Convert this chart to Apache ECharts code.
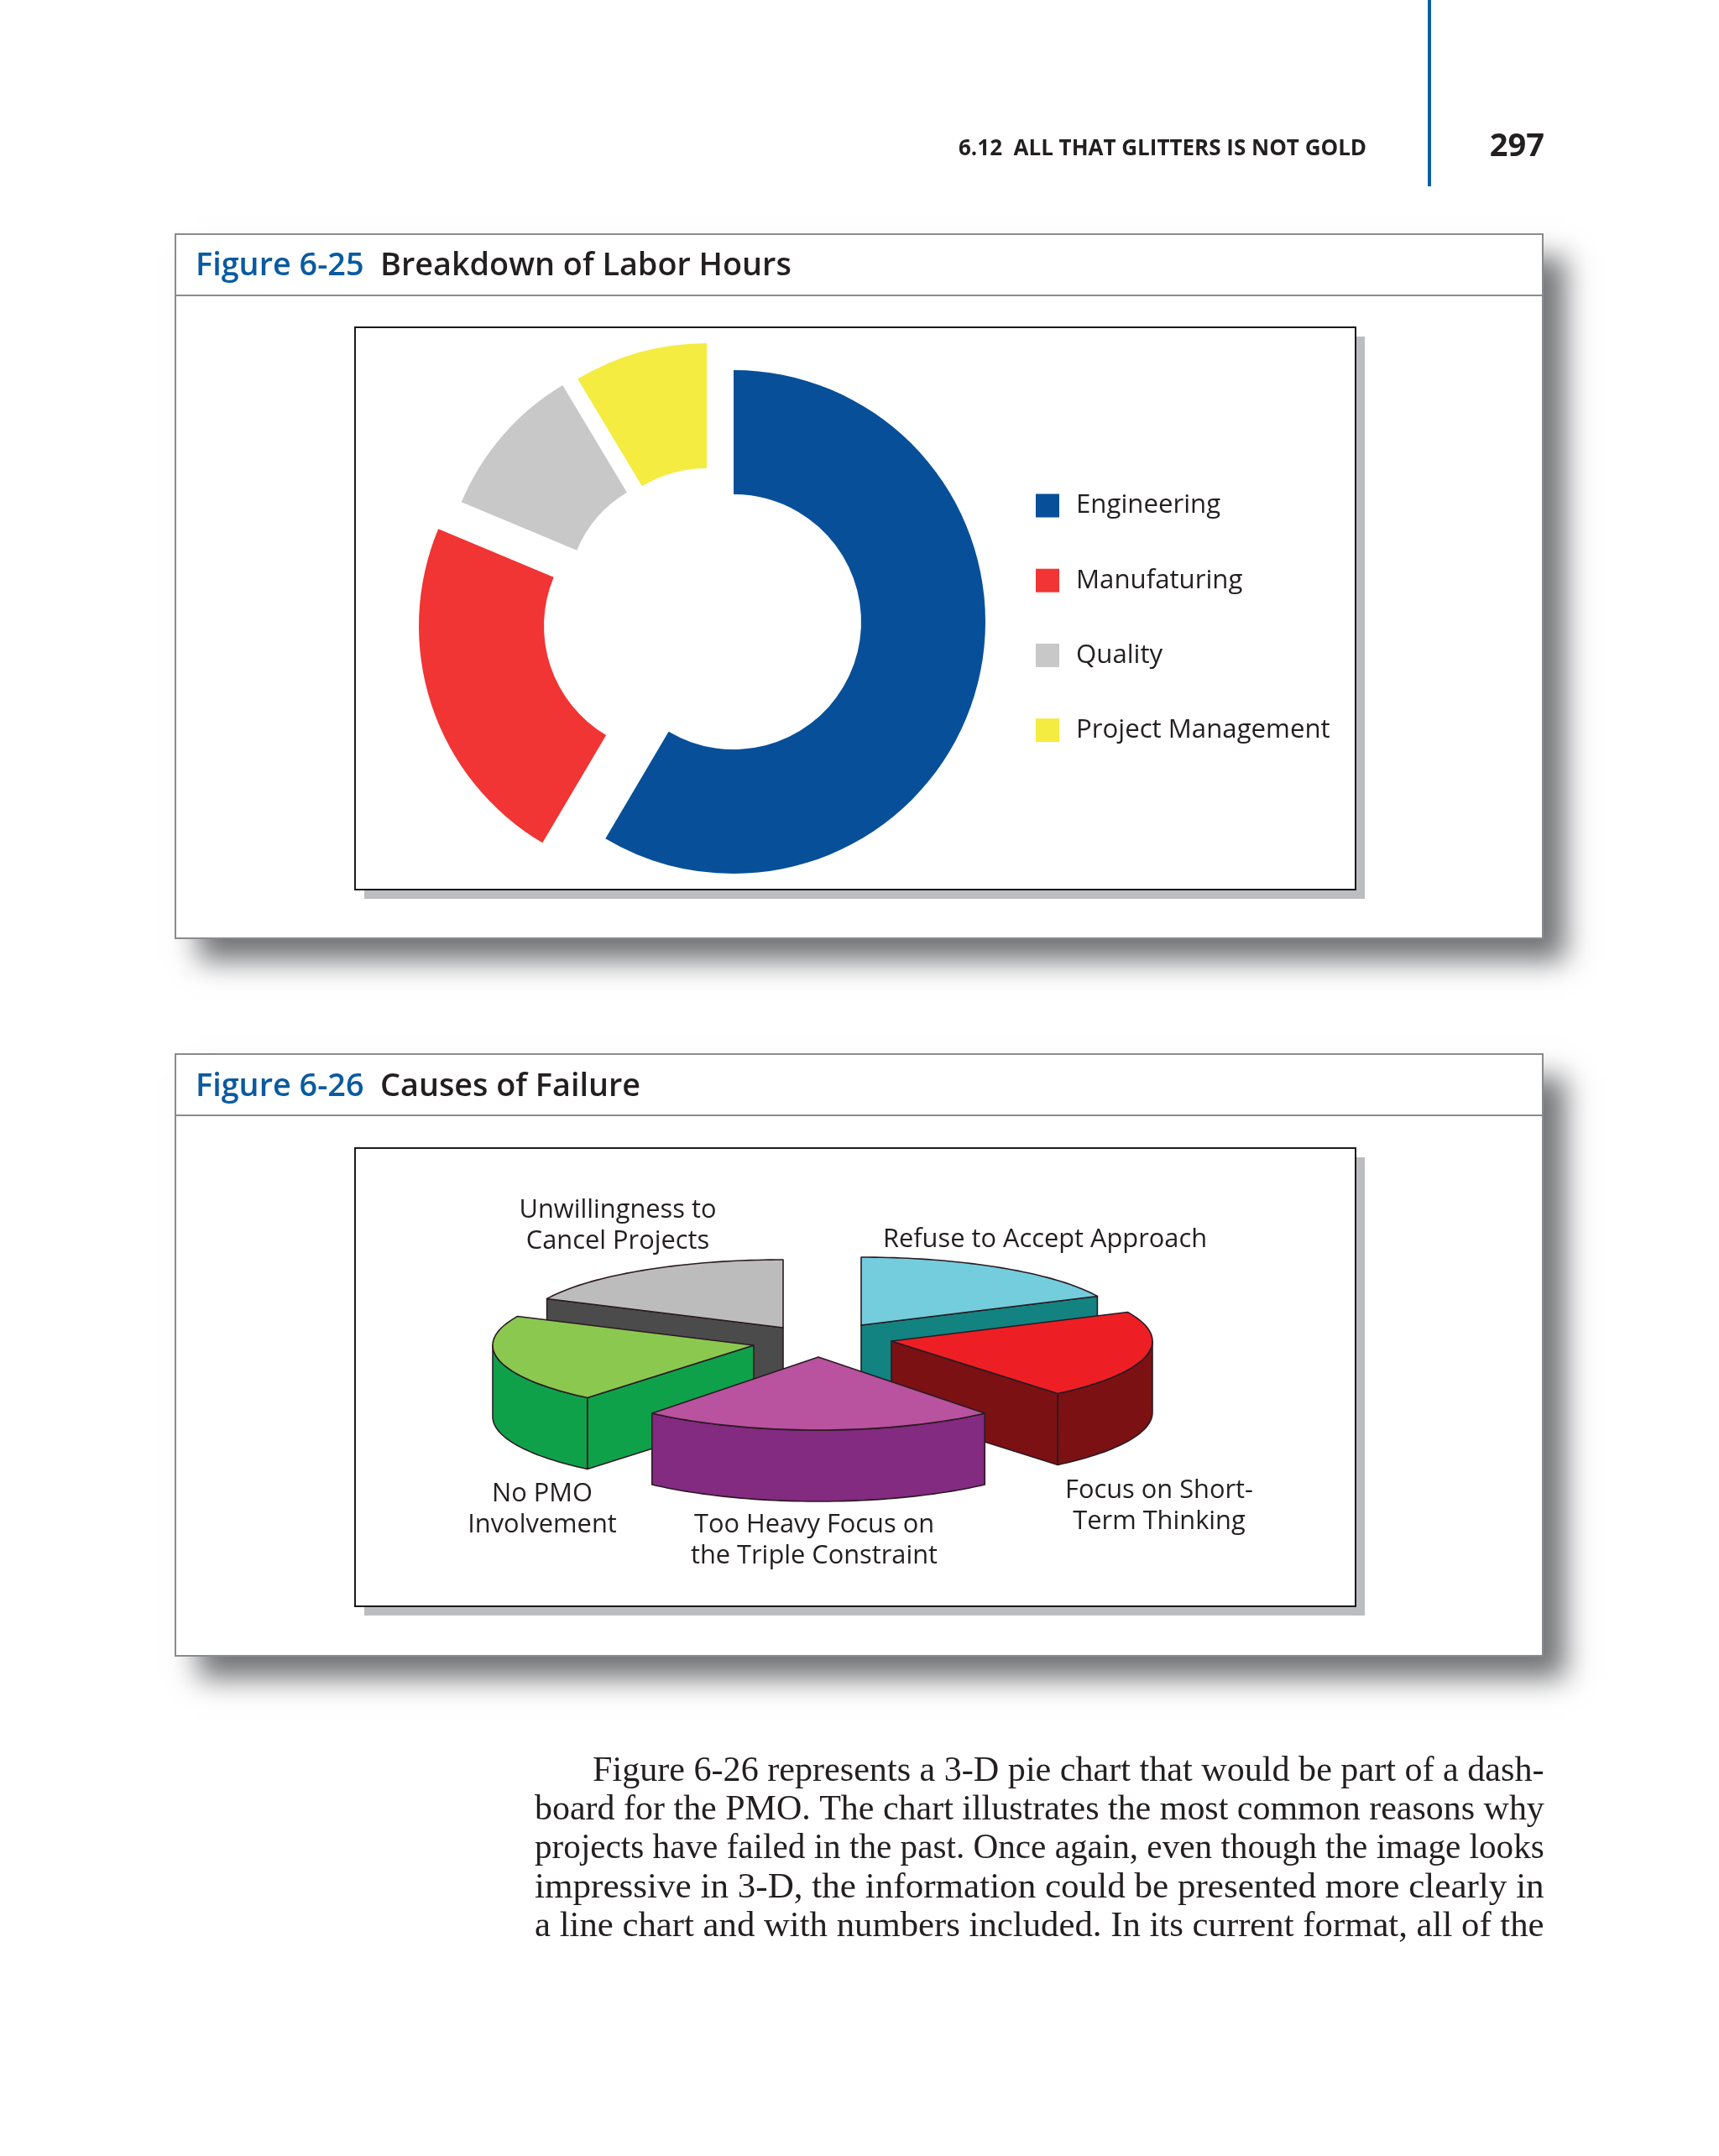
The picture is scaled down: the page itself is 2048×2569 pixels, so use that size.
<!DOCTYPE html>
<html>
<head>
<meta charset="utf-8">
<style>html,body{margin:0;padding:0;background:#fff}#c{width:2048px;height:2569px}</style>
<script src="https://cdn.jsdelivr.net/npm/echarts@6/dist/echarts.min.js"></script>
</head>
<body>
<div id="c"></div>
<script>
// ---- data ----
const laborCategories = ['Engineering', 'Manufaturing', 'Quality', 'Project Management'];
const laborValues = [58.5, 22.8, 10.1, 8.6];
const failureCauses = ['Refuse to Accept Approach', 'Focus on Short-\nTerm Thinking', 'Too Heavy Focus on\nthe Triple Constraint', 'No PMO\nInvolvement', 'Unwillingness to\nCancel Projects'];
const failureValues = [18, 21, 22, 21, 18];
const bodyLines = [
  'Figure 6-26 represents a 3-D pie chart that would be part of a dash-',
  'board for the PMO. The chart illustrates the most common reasons why',
  'projects have failed in the past. Once again, even though the image looks',
  'impressive in 3-D, the information could be presented more clearly in',
  'a line chart and with numbers included. In its current format, all of the'
];

// ---- styles & layout ----
const laborColors = ['#075099', '#f13434', '#c8c8c8', '#f4ec41'];
const laborCenters = [[874, 741], [799, 746], [822, 712], [842, 708]];
const laborRadii = [[152, 300], [151, 300], [146, 295], [150, 299]];
const topColors = ['#73cddc', '#ed1f24', '#b9529f', '#8bc850', '#bdbcbd'];
const sideColors = ['#128380', '#7b1113', '#832a81', '#0fa14a', '#4c4b4b'];
const apexes = [[1026, 1579], [1062, 1598], [975, 1617], [898, 1603], [933, 1582]];
const sliceRY = [81, 81, 87, 81, 81];
const paintOrder = [0, 2, 4, 3, 1];
const labelCenters = [[1245, 1477], [1381, 1776], [970, 1817], [646, 1780], [736, 1442]];
const RX = 311, DEPTH = 85;
const SANS = '"Open Sans", "Noto Sans", sans-serif';
const SERIF = '"Liberation Serif", serif';
const BLUE = '#0b5aa0', INK = '#231f20';

// cumulative angles (clockwise from twelve o'clock)
function cumulative(vals) {
  const total = vals.reduce((a, b) => a + b, 0);
  let run = 0;
  return vals.map(v => { const s = run; run += v; return [s / total * 360, run / total * 360]; });
}
const failureAngles = cumulative(failureValues);
const laborAngles = cumulative(laborValues);
const laborTotal = laborValues.reduce((a, b) => a + b, 0);

// ---- page furniture ----
function frame(top, bottom, headerY, boxTop, boxBottom) {
  const L = 209, R = 1838, bL = 423, bR = 1615;
  return [
    { type: 'rect', z: -10, shape: { x: L, y: top, width: R - L, height: bottom - top },
      style: { fill: '#fff', shadowBlur: 32, shadowColor: '#737477', shadowOffsetX: 27, shadowOffsetY: 27 } },
    { type: 'rect', z: -9, shape: { x: L, y: top, width: R - L, height: bottom - top },
      style: { fill: '#fff', stroke: '#8a8b8e', lineWidth: 2 } },
    { type: 'line', z: -8, shape: { x1: L, y1: headerY, x2: R, y2: headerY }, style: { stroke: '#8a8b8e', lineWidth: 2 } },
    { type: 'rect', z: -7, shape: { x: bL + 11, y: boxTop + 11, width: bR - bL, height: boxBottom - boxTop }, style: { fill: '#bcbdc0' } },
    { type: 'rect', z: -6, shape: { x: bL, y: boxTop, width: bR - bL, height: boxBottom - boxTop }, style: { fill: '#fff', stroke: '#1a1a1a', lineWidth: 2 } }
  ];
}
const measure = document.createElement('canvas').getContext('2d');
function fitSize(text, width) {
  measure.font = '100px "Liberation Serif"';
  return 100 * width / measure.measureText(text).width;
}
const bodyY = [2111, 2157, 2203, 2250, 2296];
const bodyText = bodyLines.map((t, i) => {
  const x = i === 0 ? 706 : 637;
  return { type: 'text', z: 1, x, y: bodyY[i],
    style: { text: t, fontFamily: SERIF, fontSize: fitSize(t, 1840 - x), fill: INK, verticalAlign: 'middle', align: 'left' } };
});
const causeLabels = failureCauses.map((t, i) => ({
  type: 'text', z: 5, x: labelCenters[i][0], y: labelCenters[i][1] - 18,
  style: { text: t, fontFamily: SANS, fontSize: 30.8, lineHeight: 36.5, fill: INK, align: 'center', verticalAlign: 'top' }
}));

const graphics = [
  ...frame(279, 1118, 352, 390, 1060),
  ...frame(1256, 1973, 1329, 1368, 1914),
  { type: 'line', z: 1, shape: { x1: 1703, y1: 0, x2: 1703, y2: 222 }, style: { stroke: '#0b5fa5', lineWidth: 4 } },
  { type: 'text', z: 1, x: 1142, y: 178, style: { text: '6.12  ALL THAT GLITTERS IS NOT GOLD', fontFamily: SANS, fontWeight: 700, fontSize: 26, fill: INK, verticalAlign: 'middle' } },
  { type: 'text', z: 1, x: 1840, y: 175, style: { text: '297', fontFamily: SANS, fontWeight: 700, fontSize: 38, fill: INK, align: 'right', verticalAlign: 'middle' } },
  ...bodyText,
  ...causeLabels
];

function titleEntry(top, fig, text) {
  return [
    { text: fig, left: 233, top, padding: 0, textStyle: { fontFamily: SANS, fontWeight: 600, fontSize: 37.8, color: BLUE } },
    { text, left: 453, top, padding: 0, textStyle: { fontFamily: SANS, fontWeight: 600, fontSize: 37.8, color: INK } }
  ];
}

// ---- donut: one pie per slice so each can sit on its own centre ----
const donutSeries = laborValues.map((v, i) => ({
  type: 'pie', silent: true, clockwise: true, animation: false,
  center: laborCenters[i], radius: laborRadii[i],
  startAngle: 90 - laborAngles[i][0],
  label: { show: false }, labelLine: { show: false },
  emphasis: { disabled: true },
  data: [
    { name: laborCategories[i], value: v, itemStyle: { color: laborColors[i] } },
    { name: 'rest' + i, value: laborTotal - v, itemStyle: { color: 'transparent' } }
  ]
}));

// ---- pseudo 3-D pie ----
function rim(c, ry, a, b, dy) {
  const pts = [], n = Math.max(2, Math.ceil(Math.abs(b - a) / 1.5));
  for (let k = 0; k <= n; k++) {
    const t = (a + (b - a) * k / n) * Math.PI / 180;
    pts.push([c[0] + RX * Math.sin(t), c[1] - ry * Math.cos(t) + dy]);
  }
  return pts;
}
const EDGE = '#2b1a22';
function renderSlice(params, api) {
  const i = params.dataIndex, c = apexes[i], ry = sliceRY[i], a = failureAngles[i][0], b = failureAngles[i][1];
  const z = paintOrder[i] * 10;
  const poly = (points, fill, dz) => ({ type: 'polygon', z2: z + dz, shape: { points }, style: { fill, stroke: EDGE, lineWidth: 1.6, lineJoin: 'round' } });
  const kids = [];
  const sin = d => Math.sin(d * Math.PI / 180);
  const down = p => [p[0], p[1] + DEPTH];
  const rimTop = rim(c, ry, a, b, 0);
  if (sin(a) < -1e-6) kids.push(poly([c, rimTop[0], down(rimTop[0]), down(c)], sideColors[i], 1));
  if (sin(b) > 1e-6) { const e = rimTop[rimTop.length - 1]; kids.push(poly([c, e, down(e), down(c)], sideColors[i], 1)); }
  const wa = Math.max(a, 90), wb = Math.min(b, 270);
  if (wb > wa) {
    const upper = rim(c, ry, wa, wb, 0), lower = rim(c, ry, wb, wa, DEPTH);
    kids.push(poly(upper.concat(lower), sideColors[i], 2));
  }
  kids.push(poly([c].concat(rimTop), topColors[i], 3));
  return { type: 'group', children: kids };
}

const chart = echarts.init(document.getElementById('c'), null, { renderer: 'canvas', width: 2048, height: 2569 });
chart.setOption({
  backgroundColor: '#ffffff',
  animation: false,
  title: [...titleEntry(298, 'Figure 6-25', 'Breakdown of Labor Hours'), ...titleEntry(1276, 'Figure 6-26', 'Causes of Failure')],
  legend: {
    data: laborCategories, orient: 'vertical', left: 1234, top: 587, padding: 0,
    itemWidth: 28, itemHeight: 28, itemGap: 58.2, icon: 'rect', selectedMode: false,
    textStyle: { fontFamily: SANS, fontSize: 31.2, color: INK, padding: [0, 0, 0, 15] }
  },
  graphic: { elements: graphics },
  series: [
    ...donutSeries,
    { type: 'custom', coordinateSystem: 'none', silent: true, animation: false, renderItem: renderSlice,
      data: failureValues.map((v, i) => ({ name: failureCauses[i], value: v })) }
  ]
});
</script>
</body>
</html>
